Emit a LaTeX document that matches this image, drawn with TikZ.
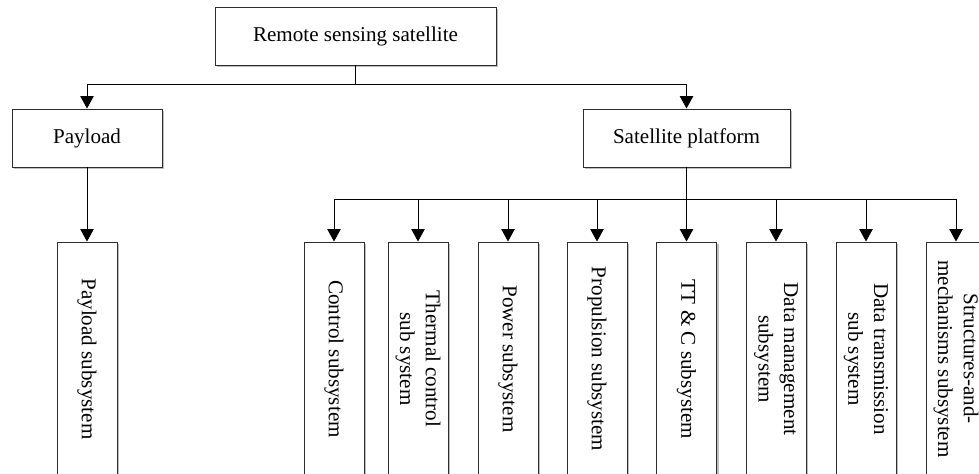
\documentclass[tikz,border=0pt]{standalone}
\usepackage{fontspec}
\setmainfont{Liberation Serif}
\usepackage{tikz}
\usetikzlibrary{arrows.meta, shadows}
\definecolor{edge}{RGB}{45, 45, 45}
\definecolor{shade}{RGB}{190, 190, 190}
\def\busy{-1.68}
\def\barty{-3.98}
\def\subw{4.68}
\def\subh{1.2}
\def\suby{-7.18}

\begin{document}
\begin{tikzpicture}[line width=0.55pt, line cap=rect,
    box/.style={draw=edge, fill=white, inner sep=0pt, font=\fontsize{12}{14.6}\selectfont,
        drop shadow={shadow xshift=0.04cm, shadow yshift=-0.04cm, fill=shade, opacity=1}},
    subbox/.style={box, rotate=-90, align=center, minimum width=\subw cm, minimum height=\subh cm},
    arr/.style={-{Triangle[length=0.25cm, width=0.27cm]}}]

                 \useasboundingbox (0, 0) rectangle (19.58, -9.48);
                 \clip (0, 0) rectangle (19.58, -9.48);

                 \node[box, minimum width=5.62cm, minimum height=1.16cm] (sat) at (7.11, -0.72) {Remote sensing satellite};
                 \node[box, minimum width=3.0cm, minimum height=1.16cm] (payload) at (1.74, -2.76) {Payload};
                 \node[box, minimum width=4.14cm, minimum height=1.16cm] (platform) at (13.73, -2.76) {Satellite platform};

                 % rotated boxes: west is the top edge
                 \node[subbox] (paysub) at (1.74, \suby) {Payload subsystem};
                 \node[subbox] (ctrl) at (6.68, \suby) {Control subsystem};
                 \node[subbox] (thermal) at (8.36, \suby) {Thermal control\\sub system};
                 \node[subbox] (power) at (10.16, \suby) {Power subsystem};
                 \node[subbox] (prop) at (11.94, \suby) {Propulsion subsystem};
                 \node[subbox] (ttc) at (13.73, \suby) {TT \& C subsystem};
                 \node[subbox] (dms) at (15.52, \suby) {Data management\\subsystem};
                 \node[subbox] (dts) at (17.32, \suby) {Data transmission\\sub system};
                 \node[subbox] (struct) at (19.12, \suby) {Structures-and-\\mechanisms subsystem};

                 % first level
                 \coordinate (split) at (sat.south |- 0, \busy);
                 \draw (sat.south) -- (split);
                 \draw[arr] (split) -| (payload.north);
                 \draw[arr] (split) -| (platform.north);

                 \draw[arr] (payload.south) -- (paysub.west);

                 % platform subsystems
                 \coordinate (bus) at (platform.south |- 0, \barty);
                 \draw[line width=0.8pt] (platform.south) -- (bus);
                 \draw[arr] (bus) -| (ctrl.west);
                 \draw[arr] (bus) -| (thermal.west);
                 \draw[arr] (bus) -| (power.west);
                 \draw[arr] (bus) -| (prop.west);
                 \draw[arr] (bus) -- (ttc.west);
                 \draw[arr] (bus) -| (dms.west);
                 \draw[arr] (bus) -| (dts.west);
                 \draw[arr] (bus) -| (struct.west);

\end{tikzpicture}
\end{document}
